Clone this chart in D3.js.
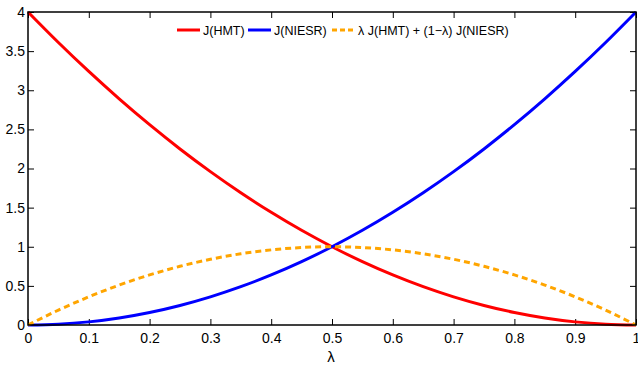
<!DOCTYPE html>
<html><head><meta charset="utf-8">
<script src="https://cdn.jsdelivr.net/npm/d3@7"></script>
<style>body{margin:0;background:#fff}svg{display:block;font-family:"Liberation Sans",Arial,sans-serif}</style>
</head><body><svg id="c" width="638" height="366"></svg>
<script>
const lambda = [0,0.05,0.1,0.15,0.2,0.25,0.3,0.35,0.4,0.45,0.5,0.55,0.6,0.65,0.7,0.75,0.8,0.85,0.9,0.95,1];
const jHMT = [4,3.61,3.24,2.89,2.56,2.25,1.96,1.69,1.44,1.21,1.0,0.81,0.64,0.49,0.36,0.25,0.16,0.09,0.04,0.01,0];
const jNIESR = [0,0.01,0.04,0.09,0.16,0.25,0.36,0.49,0.64,0.81,1.0,1.21,1.44,1.69,1.96,2.25,2.56,2.89,3.24,3.61,4];
const jMix = [0,0.19,0.36,0.51,0.64,0.75,0.84,0.91,0.96,0.99,1.0,0.99,0.96,0.91,0.84,0.75,0.64,0.51,0.36,0.19,0];
const xTicks = [0,0.1,0.2,0.3,0.4,0.5,0.6,0.7,0.8,0.9,1];
const yTicks = [0,0.5,1,1.5,2,2.5,3,3.5,4];
const seriesNames = ["J(HMT)","J(NIESR)","λ J(HMT) + (1−λ) J(NIESR)"];
const xLabel = "λ";

const svg = d3.select("#c");
const L=28,R=636,T=12,B=325;
const x = d3.scaleLinear().domain([0,1]).range([L,R]);
const y = d3.scaleLinear().domain([0,4]).range([B,T]);

const fmt = d => d3.format("")(d);
const g = svg.append("g");
const ax = g.append("g").attr("transform",`translate(0,${B})`).call(d3.axisBottom(x).tickValues(xTicks).tickFormat(fmt).tickSizeInner(-6).tickSizeOuter(0).tickPadding(8));
const axT = g.append("g").attr("transform",`translate(0,${T})`).call(d3.axisTop(x).tickValues(xTicks).tickFormat("").tickSizeInner(-6).tickSizeOuter(0));
const ay = g.append("g").attr("transform",`translate(${L},0)`).call(d3.axisLeft(y).tickValues(yTicks).tickFormat(fmt).tickSizeInner(-6).tickSizeOuter(0).tickPadding(3));
const ayR = g.append("g").attr("transform",`translate(${R},0)`).call(d3.axisRight(y).tickValues(yTicks).tickFormat("").tickSizeInner(-6).tickSizeOuter(0));
[ax,axT,ay,ayR].forEach(a=>{a.attr("font-family",null).attr("font-size",null);a.select(".domain").remove();a.selectAll("line").attr("stroke","#000");a.selectAll("text").attr("font-size",14).attr("fill","#000");});

const series = [
  {v:jHMT,c:"#ff0000",dash:null},
  {v:jNIESR,c:"#0000ff",dash:null},
  {v:jMix,c:"#ffa500",dash:"6,4"}
];
svg.append("clipPath").attr("id","cp").append("rect").attr("x",L-2).attr("y",T-2).attr("width",R-L+4).attr("height",B-T+4);
const lineCurve = d3.line().x((d,i)=>x(lambda[i])).y(d=>y(d)).curve(d3.curveMonotoneX);
series.forEach(s=>{
  svg.append("path").attr("d",lineCurve(s.v)).attr("fill","none").attr("stroke",s.c).attr("stroke-width",3)
    .attr("stroke-dasharray",s.dash).attr("clip-path","url(#cp)");
});
svg.append("rect").attr("x",L).attr("y",T).attr("width",R-L).attr("height",B-T).attr("fill","none").attr("stroke","#000").attr("stroke-width",1.5);

const leg = svg.append("g").attr("font-size",12.5);
const legX=[177,248,332];
series.forEach((s,i)=>{
  leg.append("line").attr("x1",legX[i]).attr("x2",legX[i]+23).attr("y1",30).attr("y2",30).attr("stroke",s.c).attr("stroke-width",3).attr("stroke-dasharray",s.dash?"5,3":null);
  leg.append("text").attr("x",legX[i]+26).attr("y",34.5).text(seriesNames[i]);
});
svg.append("text").attr("x",x(0.5)-1).attr("y",362).attr("text-anchor","middle").attr("font-size",15).text(xLabel);
</script></body></html>
